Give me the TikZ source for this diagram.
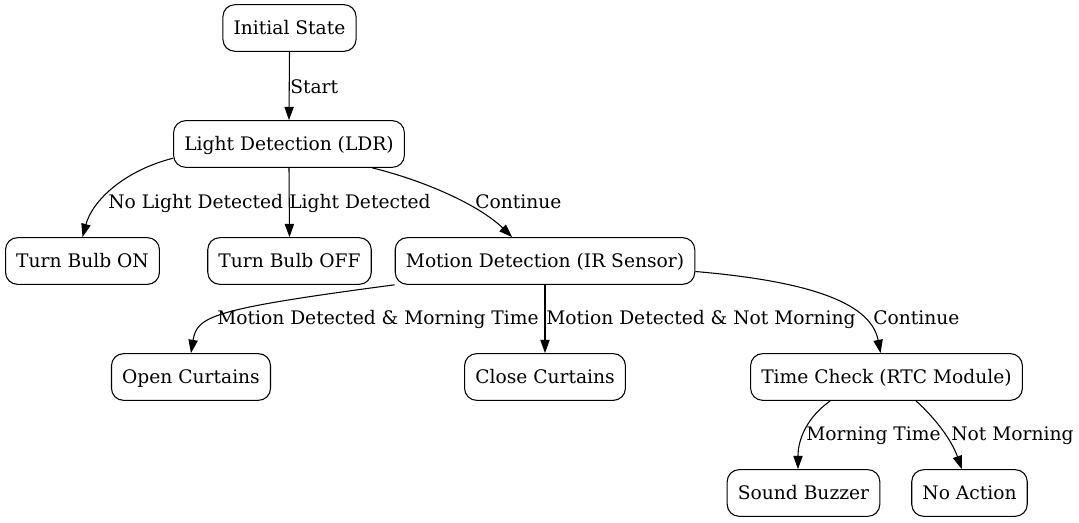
\documentclass[tikz,border=0pt]{standalone}
\usepackage{fontspec}
\setmainfont{DejaVu Serif}
\usetikzlibrary{arrows.meta}

\tikzset{
    state/.style = {draw=black, line width=0.8pt, rounded corners=9pt,
        minimum height=35pt, inner xsep=8pt, text height=12pt, text depth=1.5pt},
    edge/.style = {draw=black, line width=0.8pt, -{Triangle[length=10pt,width=7pt]}},
    lbl/.style = {anchor=base west, inner sep=0pt}
}

\begin{document}
\begin{tikzpicture}[x=0.75pt, y=-0.75pt, font={\fontsize{14pt}{17pt}\selectfont}]
    \useasboundingbox (0,0) rectangle (1079,523);

    \node[state] (init) at (289.5, 28) {Initial State};
    \node[state] (ldr) at (289, 144) {Light Detection (LDR)};

    \node[state] (bulbon) at (82.5, 261) {Turn Bulb ON};
    \node[state] (bulboff) at (289.5, 261) {Turn Bulb OFF};
    \node[state] (motion) at (545, 261) {Motion Detection (IR Sensor)};

    \node[state] (opencurt) at (191, 377) {Open Curtains};
    \node[state] (closecurt) at (545, 377) {Close Curtains};
    \node[state] (rtc) at (886.5, 377) {Time Check (RTC Module)};

    \node[state] (buzzer) at (803.5, 493) {Sound Buzzer};
    \node[state] (noaction) at (969.5, 493) {No Action};

    \draw[edge] (init.south) -- (ldr.north);
    \draw[edge] (ldr.187) .. controls +(-48,12) and +(10,-37) .. (bulbon.north);
    \draw[edge] (ldr.south) -- (bulboff.north);
    \draw[edge] (ldr.-16) .. controls +(53,13) and +(-33,-32) .. (motion.144);

    \draw[edge] (motion.189) .. controls (212,309) and (197,316) .. (opencurt.north);
    \draw[edge] (motion.south) -- (closecurt.north);
    \draw[edge] (motion.-4) .. controls +(105,9) and +(-10,-53) .. (rtc.104);

    \draw[edge] (rtc.203) .. controls +(-24,17) and +(0,-29) .. (buzzer.103);
    \draw[edge] (rtc.-39) .. controls +(19,17) and +(-10,-29) .. (noaction.108);

    \node[lbl] (lstart) at (290, 94) {Start};
    \node[lbl] (lnolight) at (108, 209) {No Light Detected};
    \node[lbl] (llight) at (289, 209) {Light Detected};
    \node[lbl] (lcont) at (475, 209) {Continue};
    \node[lbl] (lmorning) at (217, 325) {Motion Detected \& Morning Time};
    \node[lbl] (lnotmorning) at (546, 325) {Motion Detected \& Not Morning};
    \node[lbl] (lcontb) at (873, 325) {Continue};
    \node[lbl] (ltime) at (806, 441) {Morning Time};
    \node[lbl] (lnot) at (951, 441) {Not Morning};
\end{tikzpicture}
\end{document}
